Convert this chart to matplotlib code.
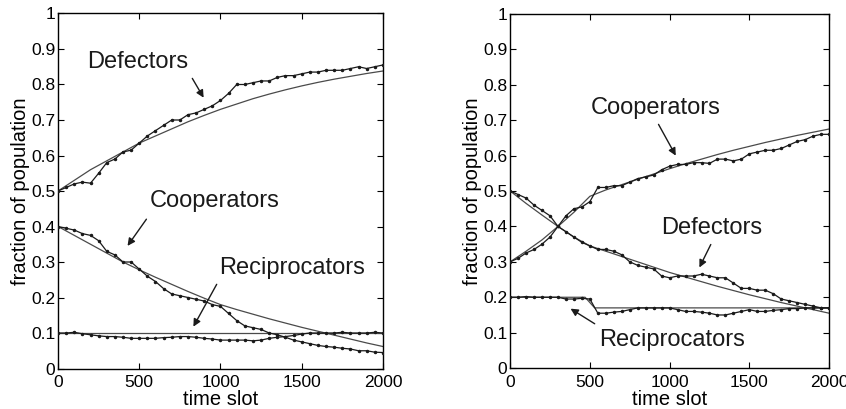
import numpy as np
import matplotlib.pyplot as plt

plt.rcParams['font.family'] = ['Liberation Sans', 'DejaVu Sans']

# simulation samples every 50 slots, model curve every 100 slots
t_sim = list(range(0, 2001, 50))
t_mod = list(range(0, 2001, 100))

# --- scenario 1 ---
def1_sim = [0.50, 0.51, 0.52, 0.525, 0.522, 0.55, 0.58, 0.59, 0.61, 0.615,
            0.635, 0.655, 0.67, 0.685, 0.70, 0.70, 0.715, 0.72, 0.73, 0.74,
            0.755, 0.775, 0.80, 0.80, 0.805, 0.81, 0.81, 0.82, 0.825, 0.825,
            0.83, 0.835, 0.835, 0.84, 0.84, 0.84, 0.845, 0.85, 0.845, 0.85, 0.855]
def1_mod = [0.50, 0.53, 0.56, 0.585, 0.61, 0.635, 0.655, 0.675, 0.695, 0.713,
            0.73, 0.745, 0.76, 0.773, 0.785, 0.796, 0.806, 0.815, 0.823, 0.831, 0.838]
coop1_sim = [0.40, 0.395, 0.39, 0.38, 0.375, 0.36, 0.33, 0.32, 0.30, 0.30,
             0.28, 0.26, 0.245, 0.225, 0.21, 0.205, 0.20, 0.195, 0.19, 0.18,
             0.175, 0.155, 0.135, 0.12, 0.115, 0.11, 0.10, 0.095, 0.088, 0.08,
             0.075, 0.07, 0.065, 0.062, 0.06, 0.057, 0.055, 0.05, 0.05, 0.046, 0.045]
coop1_mod = [0.40, 0.375, 0.35, 0.325, 0.30, 0.278, 0.257, 0.237, 0.217, 0.198,
             0.18, 0.166, 0.153, 0.14, 0.128, 0.116, 0.105, 0.094, 0.083, 0.072, 0.062]
rec1_sim = [0.10, 0.10, 0.102, 0.098, 0.095, 0.092, 0.09, 0.09, 0.088, 0.085,
            0.085, 0.085, 0.085, 0.087, 0.088, 0.09, 0.09, 0.088, 0.085, 0.083,
            0.08, 0.08, 0.08, 0.08, 0.078, 0.08, 0.085, 0.088, 0.09, 0.093,
            0.097, 0.10, 0.10, 0.10, 0.10, 0.102, 0.10, 0.10, 0.10, 0.102, 0.10]
rec1_mod = [0.10] * 21

# --- scenario 2 ---
coop2_sim = [0.30, 0.31, 0.325, 0.335, 0.35, 0.37, 0.40, 0.43, 0.45, 0.455,
             0.47, 0.51, 0.51, 0.515, 0.515, 0.525, 0.535, 0.54, 0.545, 0.56,
             0.57, 0.575, 0.575, 0.58, 0.58, 0.578, 0.59, 0.59, 0.585, 0.59,
             0.605, 0.61, 0.615, 0.615, 0.62, 0.63, 0.64, 0.645, 0.655, 0.66, 0.66]
coop2_mod = [0.30, 0.33, 0.362, 0.40, 0.44, 0.485, 0.503, 0.518, 0.533, 0.548,
             0.563, 0.577, 0.59, 0.603, 0.615, 0.626, 0.637, 0.647, 0.657, 0.666, 0.675]
def2_sim = [0.50, 0.49, 0.48, 0.46, 0.445, 0.43, 0.40, 0.385, 0.37, 0.355,
            0.345, 0.335, 0.335, 0.33, 0.32, 0.30, 0.29, 0.285, 0.28, 0.26,
            0.255, 0.26, 0.26, 0.26, 0.265, 0.26, 0.255, 0.255, 0.24, 0.225,
            0.225, 0.22, 0.22, 0.21, 0.195, 0.19, 0.185, 0.18, 0.175, 0.17, 0.17]
def2_mod = [0.50, 0.465, 0.432, 0.40, 0.37, 0.345, 0.33, 0.315, 0.30, 0.285,
            0.27, 0.257, 0.244, 0.231, 0.219, 0.207, 0.196, 0.185, 0.175, 0.165, 0.155]
rec2_sim = [0.20, 0.20, 0.202, 0.20, 0.20, 0.20, 0.20, 0.195, 0.195, 0.197,
            0.195, 0.155, 0.155, 0.158, 0.16, 0.165, 0.17, 0.17, 0.17, 0.17,
            0.17, 0.165, 0.16, 0.16, 0.158, 0.155, 0.15, 0.15, 0.155, 0.16,
            0.165, 0.16, 0.16, 0.163, 0.165, 0.168, 0.168, 0.17, 0.17, 0.17, 0.17]
rec2_mod_t = [0, 470, 530, 2000]
rec2_mod = [0.20, 0.20, 0.17, 0.17]

x_ticks = [0, 500, 1000, 1500, 2000]
y_ticks = [0, 0.1, 0.2, 0.3, 0.4, 0.5, 0.6, 0.7, 0.8, 0.9, 1]
y_ticklabels = ['0', '0.1', '0.2', '0.3', '0.4', '0.5', '0.6', '0.7', '0.8', '0.9', '1']


def sim_line(ax, y):
    ax.plot(t_sim, y, color='#1a1a1a', lw=0.9, marker='.', ms=3, zorder=3)


def mod_line(ax, t, y):
    ax.plot(t, y, color='#4a4a4a', lw=0.9, zorder=2)


def label(ax, text, pos, tail, tip):
    ax.text(pos[0], pos[1], text, fontsize=17, ha='center', va='center', color='#1a1a1a')
    ax.annotate('', xy=tip, xytext=tail,
                arrowprops=dict(arrowstyle='-|>', color='#1a1a1a', lw=1.0, mutation_scale=11))


def style(ax):
    ax.set_xlim(0, 2000)
    ax.set_ylim(0, 1)
    ax.set_xticks(x_ticks)
    ax.set_yticks(y_ticks)
    ax.set_yticklabels(y_ticklabels)
    ax.tick_params(direction='in', length=4, top=True, right=True, labelsize=12.5, pad=2)
    ax.tick_params(axis='x', pad=5)
    ax.set_xlabel('time slot', fontsize=14.5, labelpad=0)
    ax.set_ylabel('fraction of population', fontsize=14.5, labelpad=1)
    for s in ax.spines.values():
        s.set_linewidth(1.0)


fig = plt.figure(figsize=(8.46, 4.09), dpi=100)
ax1 = fig.add_axes([0.0686, 0.099, 0.384, 0.868])
ax2 = fig.add_axes([0.603, 0.100, 0.377, 0.866])

mod_line(ax1, t_mod, def1_mod)
mod_line(ax1, t_mod, coop1_mod)
mod_line(ax1, t_mod, rec1_mod)
sim_line(ax1, def1_sim)
sim_line(ax1, coop1_sim)
sim_line(ax1, rec1_sim)
label(ax1, 'Defectors', (492, 0.863), (818, 0.824), (905, 0.756))
label(ax1, 'Cooperators', (966, 0.472), (554, 0.427), (418, 0.339))
label(ax1, 'Reciprocators', (1440, 0.283), (985, 0.244), (825, 0.111))
style(ax1)

mod_line(ax2, t_mod, coop2_mod)
mod_line(ax2, t_mod, def2_mod)
mod_line(ax2, rec2_mod_t, rec2_mod)
sim_line(ax2, coop2_sim)
sim_line(ax2, def2_sim)
sim_line(ax2, rec2_sim)
label(ax2, 'Cooperators', (915, 0.734), (922, 0.695), (1047, 0.593))
label(ax2, 'Defectors', (1266, 0.395), (1266, 0.356), (1179, 0.277))
label(ax2, 'Reciprocators', (1016, 0.079), (545, 0.121), (364, 0.172))
style(ax2)

fig.savefig('out.png', dpi=100)
